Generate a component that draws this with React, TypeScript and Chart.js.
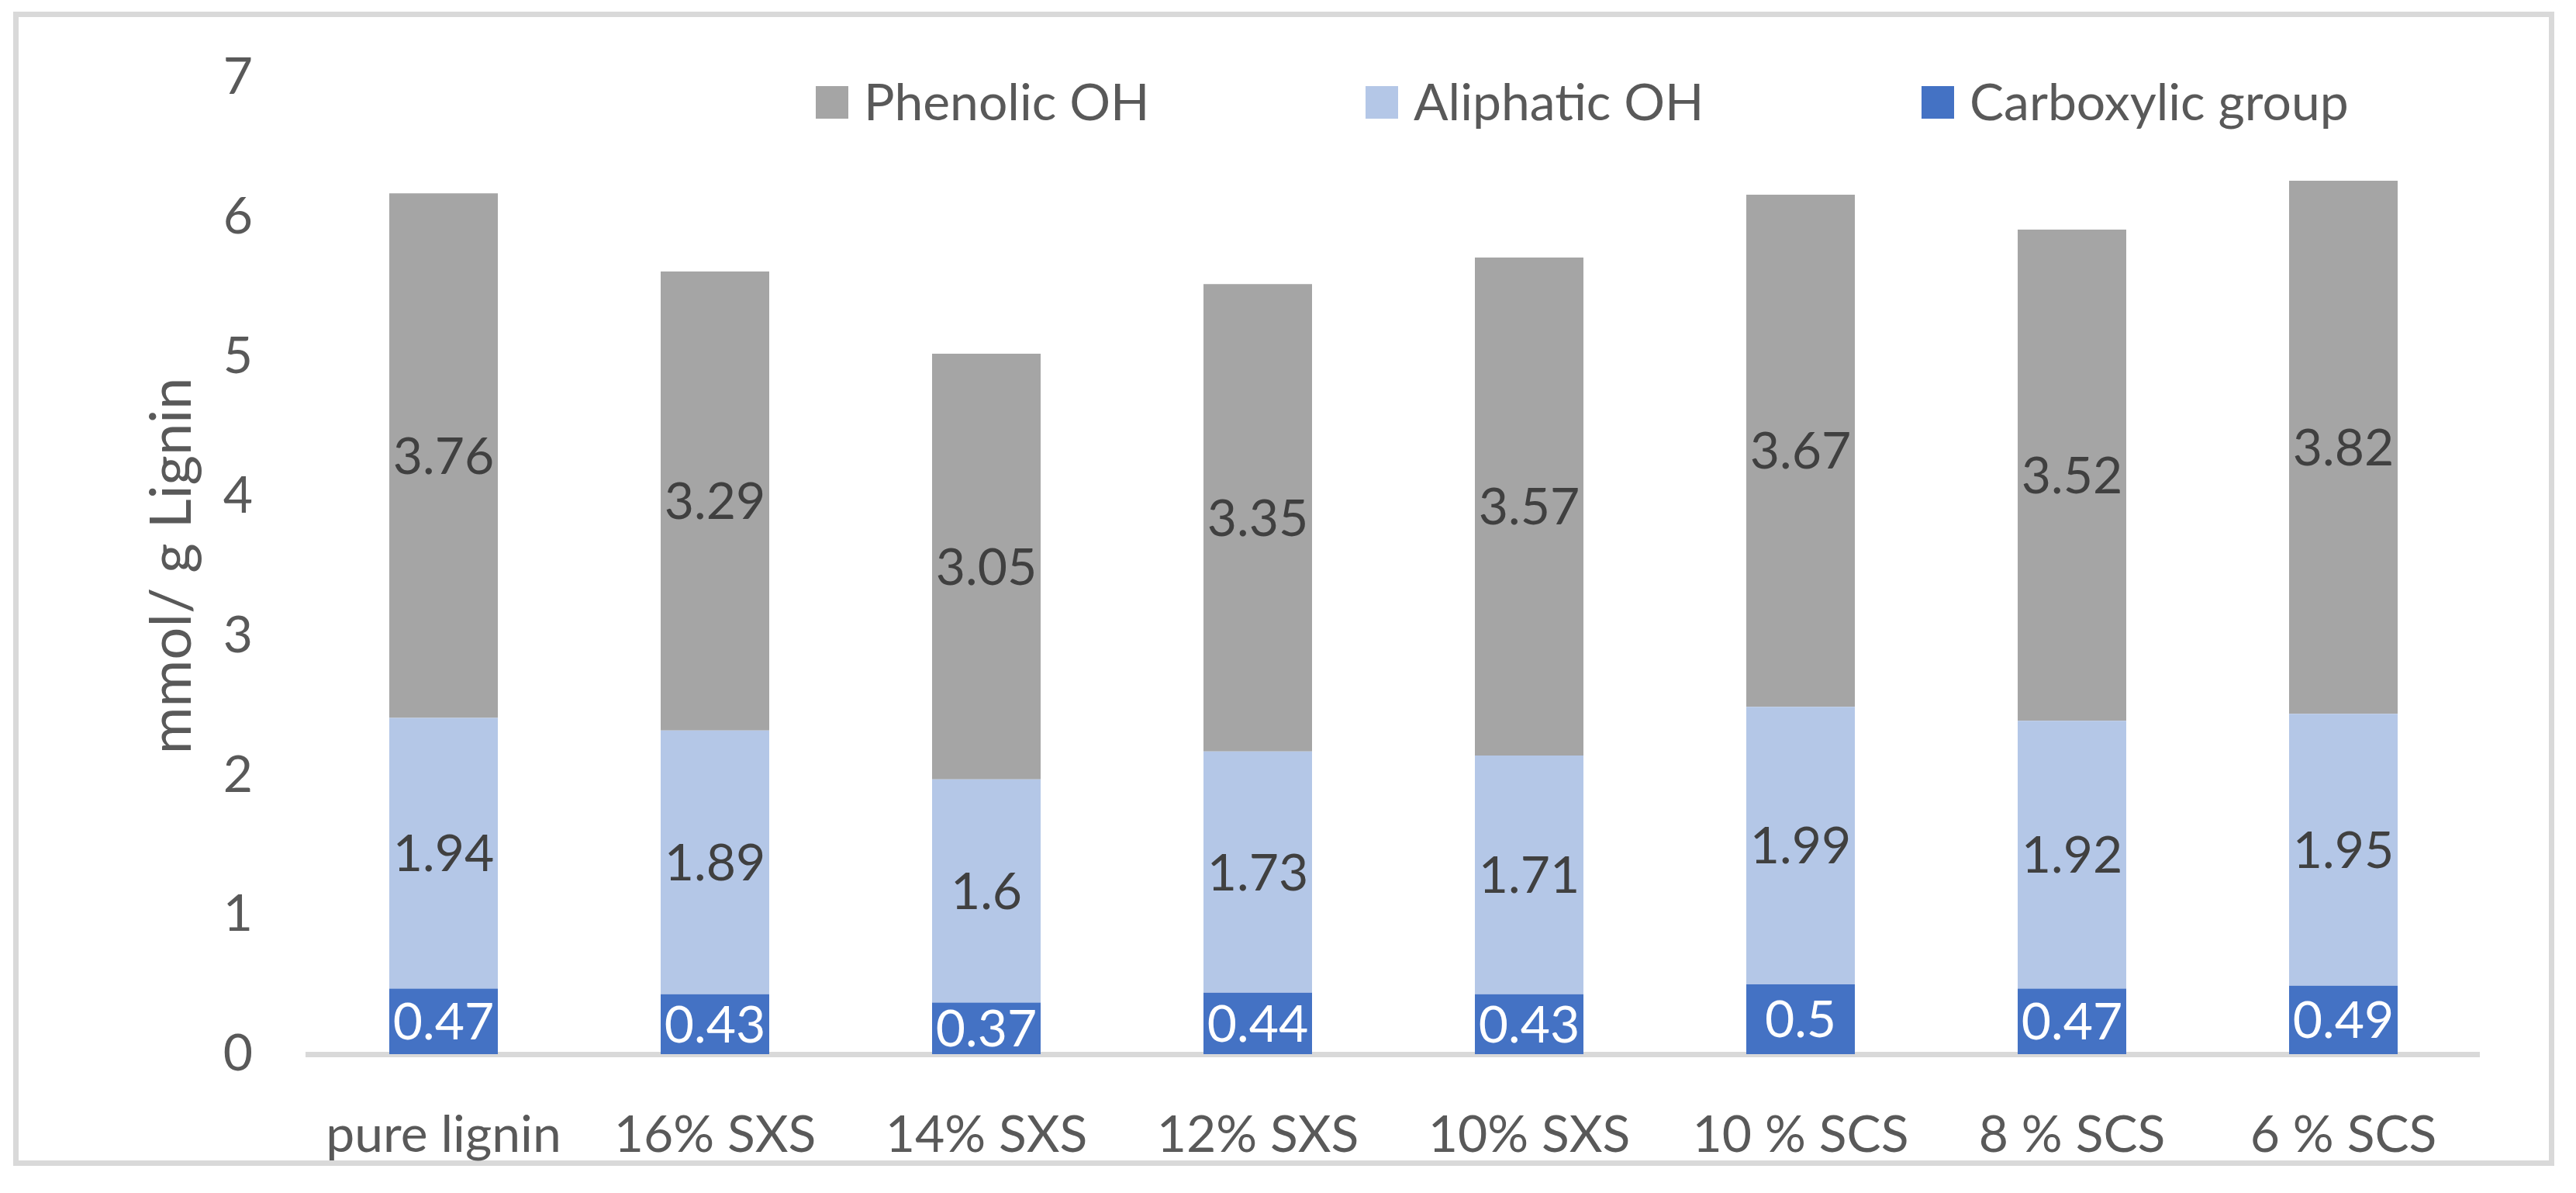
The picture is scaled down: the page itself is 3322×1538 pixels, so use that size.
import React, { useEffect, useRef } from "react";
import { Chart, registerables } from "chart.js";

Chart.register(...registerables);

const categories = [
  "pure lignin",
  "16% SXS",
  "14% SXS",
  "12% SXS",
  "10% SXS",
  "10 % SCS",
  "8 % SCS",
  "6 % SCS",
];
const carboxylic = [0.47, 0.43, 0.37, 0.44, 0.43, 0.5, 0.47, 0.49];
const aliphatic = [1.94, 1.89, 1.6, 1.73, 1.71, 1.99, 1.92, 1.95];
const phenolic = [3.76, 3.29, 3.05, 3.35, 3.57, 3.67, 3.52, 3.82];
const seriesNames = ["Carboxylic group", "Aliphatic OH", "Phenolic OH"];
const yMin = 0;
const yMax = 7;
const yStep = 1;
const yTitle = "mmol/ g Lignin";

const FONT = "Lato, 'Liberation Sans', sans-serif";
const W = 3322;
const H = 1538;

const framePlugin = {
  id: "frame",
  beforeDraw(chart: any) {
    const ctx = chart.ctx;
    ctx.save();
    ctx.fillStyle = "#ffffff";
    ctx.fillRect(0, 0, chart.width, chart.height);
    ctx.strokeStyle = "#D9D9D9";
    ctx.lineWidth = 7;
    ctx.strokeRect(20.5, 18.5, 3270, 1481);
    ctx.restore();
  },
};

const labelPlugin = {
  id: "segLabels",
  afterDatasetsDraw(chart: any) {
    const ctx = chart.ctx;
    ctx.save();
    ctx.font = `66px ${FONT}`;
    ctx.textAlign = "center";
    ctx.textBaseline = "middle";
    chart.data.datasets.forEach((ds: any, i: number) => {
      const meta = chart.getDatasetMeta(i);
      meta.data.forEach((el: any, j: number) => {
        const v = ds.data[j];
        const cy = (el.y + el.base) / 2;
        ctx.fillStyle = ds.labelColor;
        ctx.fillText(String(v), el.x, cy + 2);
      });
    });
    ctx.restore();
  },
};

const legendPlugin = {
  id: "customLegend",
  afterDraw(chart: any) {
    const ctx = chart.ctx;
    const area = chart.chartArea;
    ctx.save();
    ctx.font = `66px ${FONT}`;
    ctx.textBaseline = "middle";
    ctx.textAlign = "left";
    const offsets = [655, 1364, 2081];
    const order = [2, 1, 0];
    const cy = 132;
    order.forEach((di, k) => {
      const ds = chart.data.datasets[di];
      const x = area.left + offsets[k];
      ctx.fillStyle = ds.backgroundColor;
      ctx.fillRect(x, cy - 21, 42, 42);
      ctx.fillStyle = "#595959";
      ctx.fillText(ds.label, x + 62, cy + 2);
    });
    ctx.restore();
  },
};

export default function App() {
  const ref = useRef<HTMLCanvasElement | null>(null);

  useEffect(() => {
    document.body.style.margin = "0";
    const canvas = ref.current;
    if (!canvas) return;
    const chart = new Chart(canvas, {
      type: "bar",
      data: {
        labels: categories,
        datasets: [
          {
            label: seriesNames[0],
            data: carboxylic,
            backgroundColor: "#4472C4",
            labelColor: "#FFFFFF",
          } as any,
          {
            label: seriesNames[1],
            data: aliphatic,
            backgroundColor: "#B4C7E7",
            labelColor: "#404040",
          } as any,
          {
            label: seriesNames[2],
            data: phenolic,
            backgroundColor: "#A5A5A5",
            labelColor: "#404040",
          } as any,
        ],
      },
      options: {
        responsive: false,
        animation: false,
        devicePixelRatio: 1,
        layout: { padding: { top: 100, right: 125, bottom: 0, left: 0 } },
        datasets: {
          bar: { categoryPercentage: 1, barPercentage: 0.4, borderWidth: 0 },
        },
        plugins: {
          legend: { display: false },
          tooltip: { enabled: false },
        },
        scales: {
          x: {
            stacked: true,
            z: 1,
            grid: { display: false, drawTicks: false, tickLength: 0 },
            border: { display: true, color: "#D9D9D9", width: 7 },
            ticks: {
              color: "#595959",
              font: { family: FONT, size: 66 },
              padding: 65,
              maxRotation: 0,
              autoSkip: false,
            },
            afterFit: (s: any) => {
              s.height = H - 1359;
              s.paddingLeft = 0;
              s.paddingRight = 0;
            },
          },
          y: {
            stacked: true,
            min: yMin,
            max: yMax,
            grid: { display: false, drawTicks: false, tickLength: 0 },
            border: { display: false },
            ticks: {
              stepSize: yStep,
              color: "#595959",
              font: { family: FONT, size: 66 },
              padding: 71,
            },
            title: {
              display: true,
              text: yTitle,
              color: "#595959",
              font: { family: FONT, size: 74 },
              padding: { top: 178, bottom: 0 },
            },
            afterFit: (s: any) => {
              s.width = 397;
              s.paddingTop = 0;
              s.paddingBottom = 0;
            },
          },
        },
      },
      plugins: [framePlugin, labelPlugin, legendPlugin],
    } as any);
    return () => chart.destroy();
  }, []);

  return (
    <div style={{ width: W, height: H }}>
      <canvas ref={ref} width={W} height={H} style={{ width: W, height: H, display: "block" }} />
    </div>
  );
}
